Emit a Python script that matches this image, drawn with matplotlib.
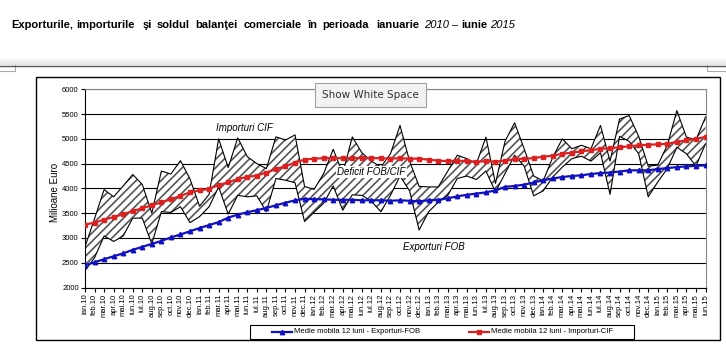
import numpy as np
import matplotlib.pyplot as plt
from matplotlib.patches import Rectangle
from matplotlib.lines import Line2D

luni = ['ian.10', 'feb.10', 'mar.10', 'apr.10', 'mai.10', 'iun.10', 'iul.10', 'aug.10', 'sep.10', 'oct.10', 'nov.10', 'dec.10',
        'ian.11', 'feb.11', 'mar.11', 'apr.11', 'mai.11', 'iun.11', 'iul.11', 'aug.11', 'sep.11', 'oct.11', 'nov.11', 'dec.11',
        'ian.12', 'feb.12', 'mar.12', 'apr.12', 'mai.12', 'iun.12', 'iul.12', 'aug.12', 'sep.12', 'oct.12', 'nov.12', 'dec.12',
        'ian.13', 'feb.13', 'mar.13', 'apr.13', 'mai.13', 'iun.13', 'iul.13', 'aug.13', 'sep.13', 'oct.13', 'nov.13', 'dec.13',
        'ian.14', 'feb.14', 'mar.14', 'apr.14', 'mai.14', 'iun.14', 'iul.14', 'aug.14', 'sep.14', 'oct.14', 'nov.14', 'dec.14',
        'ian.15', 'feb.15', 'mar.15', 'apr.15', 'mai.15', 'iun.15']

# milioane euro
importuri_cif = [2820, 3390, 3975, 3830, 4050, 4280, 4080, 3500, 4350, 4290, 4560, 4190,
                 3640, 3880, 5000, 4420, 5020, 4640, 4500, 4400, 5040, 4975, 5080, 4040,
                 3980, 4300, 4790, 4300, 5040, 4720, 4550, 4430, 4700, 5270, 4550, 4040,
                 4030, 4030, 4350, 4670, 4600, 4500, 5035, 4100, 4950, 5325, 4800, 4250,
                 4150, 4630, 5000, 4800, 4870, 4800, 5270, 4550, 5400, 5470, 5050, 4450,
                 4470, 4870, 5570, 5035, 4980, 5440]
exporturi_fob = [2340, 2600, 3040, 2930, 3040, 3400, 3400, 2880, 3530, 3515, 3630, 3310,
                 3430, 3630, 4030, 3480, 3860, 3830, 3850, 3530, 4200, 4165, 4115, 3330,
                 3520, 3700, 4050, 3560, 3870, 3860, 3740, 3530, 3860, 4250, 3950, 3160,
                 3530, 3720, 3860, 4200, 4250, 4180, 4350, 3930, 4300, 4670, 4450, 3850,
                 3950, 4230, 4430, 4600, 4650, 4550, 4720, 3880, 5050, 4950, 4700, 3830,
                 4130, 4400, 4830, 4700, 4450, 4900]
mm_importuri = [3270, 3310, 3370, 3420, 3480, 3540, 3600, 3660, 3720, 3780, 3850, 3920,
                3960, 3990, 4070, 4120, 4190, 4230, 4260, 4320, 4390, 4450, 4520, 4580,
                4600, 4610, 4610, 4610, 4610, 4615, 4610, 4610, 4600, 4610, 4600, 4600,
                4580, 4560, 4550, 4560, 4550, 4540, 4550, 4540, 4560, 4590, 4600, 4610,
                4640, 4660, 4700, 4720, 4750, 4770, 4800, 4810, 4830, 4850, 4870, 4880,
                4890, 4900, 4940, 4970, 5000, 5040]
mm_exporturi = [2450, 2510, 2570, 2630, 2690, 2760, 2820, 2880, 2940, 3010, 3070, 3135,
                3200, 3260, 3320, 3410, 3470, 3520, 3560, 3605, 3660, 3710, 3760, 3790,
                3780, 3780, 3770, 3770, 3770, 3760, 3760, 3760, 3750, 3760, 3750, 3740,
                3760, 3770, 3800, 3840, 3870, 3895, 3920, 3960, 4030, 4050, 4075, 4120,
                4165, 4200, 4230, 4250, 4265, 4290, 4310, 4320, 4340, 4365, 4365, 4365,
                4390, 4410, 4430, 4445, 4455, 4465]

W, H = 726, 359
plt.rcParams['font.family'] = ['Liberation Sans', 'DejaVu Sans']
fig = plt.figure(figsize=(W / 100, H / 100), dpi=100)


def fx(x):
    return x / W


def fy(y):
    return 1 - y / H


# titlu (cuvant cu cuvant, ca in document)
title_words = [(42.5, 'Exporturile,', 'bold', 'normal'), (105.5, 'importurile', 'bold', 'normal'),
               (147.5, 'şi', 'bold', 'normal'), (173.5, 'soldul', 'bold', 'normal'),
               (216.5, 'balanţei', 'bold', 'normal'), (272.5, 'comerciale', 'bold', 'normal'),
               (312.5, 'în', 'bold', 'normal'), (346, 'perioada', 'bold', 'normal'),
               (397.5, 'ianuarie', 'bold', 'normal'), (436.5, '2010', 'normal', 'italic'),
               (455, '–', 'normal', 'normal'), (474, 'iunie', 'bold', 'normal'),
               (503, '2015', 'normal', 'italic')]
for x, w, wt, st in title_words:
    fig.text(fx(x), fy(25), w, fontsize=8, fontweight=wt, fontstyle=st, ha='center', va='center')

# linia de separare a paginii
for k in range(8):
    g = 1.0 - 0.015 * k
    fig.add_artist(Line2D([0, 1], [fy(57 + k), fy(57 + k)], transform=fig.transFigure, color=(g, g, g), lw=0.8))
fig.add_artist(Line2D([0, 1], [fy(65.5), fy(65.5)], transform=fig.transFigure, color='#555555', lw=1.0))
fig.add_artist(Rectangle((fx(-1), fy(71)), fx(16), fy(60) - fy(71), transform=fig.transFigure,
                         fc='white', ec='#aaaaaa', lw=0.8))
fig.add_artist(Rectangle((fx(707), fy(71)), fx(20), fy(60) - fy(71), transform=fig.transFigure,
                         fc='white', ec='#aaaaaa', lw=0.8))

# chenarul graficului
fig.add_artist(Rectangle((fx(35.5), fy(339.5)), fx(719.5) - fx(35.5), fy(77.5) - fy(339.5),
                         transform=fig.transFigure, fill=False, ec='black', lw=1))

ax = fig.add_axes([fx(85), fy(287.5), fx(705.5) - fx(85), fy(89.3) - fy(287.5)])
x = np.arange(len(luni))

plt.rcParams['hatch.linewidth'] = 1.2
ax.fill_between(x, exporturi_fob, importuri_cif, facecolor='white', edgecolor='#555555',
                hatch='////', lw=0, zorder=2)
ax.plot(x, importuri_cif, color='black', lw=0.8, zorder=3)
ax.plot(x, exporturi_fob, color='black', lw=0.8, zorder=3)
ax.plot(x, mm_exporturi, color='#1010c0', lw=1.6, marker='^', ms=3.2, zorder=4)
ax.plot(x, mm_importuri, color='#dd2020', lw=1.6, marker='s', ms=2.6, zorder=4)

ax.set_xlim(0, len(luni) - 1)
ax.set_ylim(2000, 6000)
ax.set_yticks(np.arange(2000, 6001, 500))
ax.set_yticklabels([str(v) for v in range(2000, 6001, 500)], fontsize=5.5)
ax.grid(axis='y', color='black', lw=0.8, zorder=1)
ax.set_xticks(x)
ax.set_xticklabels(luni, rotation=90, fontsize=5.5)
ax.tick_params(axis='both', length=3, width=0.8, pad=1.5)
ax.spines['top'].set_color('#888888')
ax.spines['right'].set_color('#888888')

ax.text(13.7, 5220, 'Importuri CIF', fontsize=7, style='italic', va='center', zorder=5)
ax.text(26.4, 4330, 'Deficit FOB/CIF', fontsize=7, style='italic', va='center', zorder=5,
        bbox=dict(fc='white', ec='none', pad=1))
ax.text(33.3, 2820, 'Exporturi FOB', fontsize=7, style='italic', va='center', zorder=5)

fig.text(fx(55), fy(192), 'Milioane Euro', rotation=90, fontsize=7, ha='center', va='center')

# legenda
fig.add_artist(Rectangle((fx(249.5), fy(338.5)), fx(633.5) - fx(249.5), fy(324.5) - fy(338.5),
                         transform=fig.transFigure, fc='white', ec='black', lw=0.8))
fig.add_artist(Line2D([fx(272), fx(292)], [fy(331.5), fy(331.5)], transform=fig.transFigure,
                      color='#1010c0', lw=1.6))
fig.add_artist(Line2D([fx(282)], [fy(331.5)], transform=fig.transFigure, color='#1010c0',
                      marker='^', ms=3.2))
fig.text(fx(294), fy(331.5), 'Medie mobila 12 luni - Exporturi-FOB', fontsize=5.5, va='center')
fig.add_artist(Line2D([fx(469), fx(489)], [fy(331.5), fy(331.5)], transform=fig.transFigure,
                      color='#dd2020', lw=1.6))
fig.add_artist(Line2D([fx(479)], [fy(331.5)], transform=fig.transFigure, color='#dd2020',
                      marker='s', ms=2.6))
fig.text(fx(491), fy(331.5), 'Medie mobila 12 luni - Importuri-CIF', fontsize=5.5, va='center')

# butonul "Show White Space" din Word
fig.add_artist(Rectangle((fx(314.5), fy(106.5)), fx(426) - fx(314.5), fy(83) - fy(106.5),
                         transform=fig.transFigure, fc='#f2f2f2', ec='#a0a0a0', lw=0.8, zorder=10))
fig.text(fx(370), fy(95), 'Show White Space', fontsize=7.5, family='DejaVu Sans', color='#333333',
         ha='center', va='center', zorder=11)

fig.savefig('out.png', dpi=100)
